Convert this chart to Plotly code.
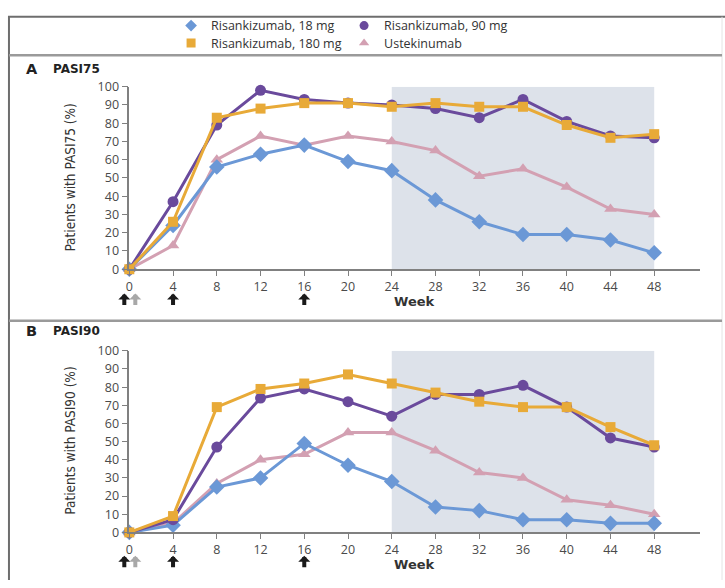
import plotly.graph_objects as go

weeks = [0, 4, 8, 12, 16, 20, 24, 28, 32, 36, 40, 44, 48]
tick_weeks = [0, 4, 8, 12, 16, 20, 24, 28, 32, 36, 40, 44, 48]
y_ticks = [0, 10, 20, 30, 40, 50, 60, 70, 80, 90, 100]

series_names = ["Risankizumab, 18 mg", "Risankizumab, 90 mg", "Risankizumab, 180 mg", "Ustekinumab"]

# Panel A: PASI75
pasi75_18 = [0, 24, 56, 63, 68, 59, 54, 38, 26, 19, 19, 16, 9]
pasi75_90 = [0, 37, 79, 98, 93, 91, 90, 88, 83, 93, 81, 73, 72]
pasi75_180 = [0, 26, 83, 88, 91, 91, 89, 91, 89, 89, 79, 72, 74]
pasi75_ust = [0, 13, 60, 73, 68, 73, 70, 65, 51, 55, 45, 33, 30]

# Panel B: PASI90
pasi90_18 = [0, 4, 25, 30, 49, 37, 28, 14, 12, 7, 7, 5, 5]
pasi90_90 = [0, 7, 47, 74, 79, 72, 64, 76, 76, 81, 69, 52, 47]
pasi90_180 = [0, 9, 69, 79, 82, 87, 82, 77, 72, 69, 69, 58, 48]
pasi90_ust = [0, 5, 27, 40, 43, 55, 55, 45, 33, 30, 18, 15, 10]

shade_weeks = [24, 48]
black_arrow_weeks = [0, 4, 16]
gray_arrow_weeks = [0]

colors = {
    "Risankizumab, 18 mg": "#6b98d6",
    "Risankizumab, 90 mg": "#6a4a9c",
    "Risankizumab, 180 mg": "#e8aa38",
    "Ustekinumab": "#d3a0b2",
}
symbols = {
    "Risankizumab, 18 mg": "diamond",
    "Risankizumab, 90 mg": "circle",
    "Risankizumab, 180 mg": "square",
    "Ustekinumab": "triangle-up",
}
sizes = {
    "Risankizumab, 18 mg": 12,
    "Risankizumab, 90 mg": 11,
    "Risankizumab, 180 mg": 10,
    "Ustekinumab": 11,
}
legend_of = {
    "Risankizumab, 18 mg": "legend",
    "Risankizumab, 90 mg": "legend",
    "Risankizumab, 180 mg": "legend2",
    "Ustekinumab": "legend2",
}

panelA = dict(zip(series_names, [pasi75_18, pasi75_90, pasi75_180, pasi75_ust]))
panelB = dict(zip(series_names, [pasi90_18, pasi90_90, pasi90_180, pasi90_ust]))

W, H = 725, 588
def px(x):
    return x / W
def py(y):
    return 1 - y / H

fig = go.Figure()

draw_order = ["Ustekinumab", "Risankizumab, 18 mg", "Risankizumab, 90 mg", "Risankizumab, 180 mg"]
legend_rank = {n: i for i, n in enumerate(series_names)}

for xa, ya, data in [("x", "y", panelA), ("x2", "y2", panelB)]:
    for name in draw_order:
        fig.add_trace(go.Scatter(
            x=weeks, y=data[name], name=name, mode="lines+markers",
            xaxis=xa, yaxis=ya, cliponaxis=False,
            line=dict(color=colors[name], width=3),
            marker=dict(symbol=symbols[name], size=sizes[name], color=colors[name]),
            showlegend=False,
        ))

# legend-only entries (marker symbol only, as in the reference key)
for name in series_names:
    fig.add_trace(go.Scatter(
        x=[None], y=[None], name=name, mode="markers",
        marker=dict(symbol=symbols[name], size=9, color=colors[name]),
        showlegend=True, legend=legend_of[name], legendrank=legend_rank[name],
        hoverinfo="skip",
    ))

axis_line = "#808080"
tick_font = dict(family="Open Sans, DejaVu Sans, sans-serif", size=12.5, color="#4a4a4a")

x_dom = [px(126), px(700)]
common_x = dict(range=[0, 52.2], tickvals=tick_weeks, showline=True, linecolor=axis_line,
                linewidth=1.5, ticks="outside", ticklen=5, tickwidth=1.2, tickcolor=axis_line,
                showgrid=False, zeroline=False, tickfont=tick_font, fixedrange=True)
common_y = dict(range=[0, 100], tickvals=y_ticks, showline=True, linecolor=axis_line,
                linewidth=1.5, ticks="outside", ticklen=6, tickwidth=1.2, tickcolor=axis_line,
                showgrid=False, zeroline=False, tickfont=tick_font, fixedrange=True)

legend_font = dict(family="Open Sans, sans-serif", size=12.5, color="#333333")
fig.update_layout(
    width=W, height=H, margin=dict(l=0, r=0, t=0, b=0),
    paper_bgcolor="white", plot_bgcolor="rgba(0,0,0,0)",
    xaxis=dict(domain=x_dom, anchor="y", **common_x),
    yaxis=dict(domain=[py(268), py(80)], anchor="x", **common_y),
    xaxis2=dict(domain=x_dom, anchor="y2", **common_x),
    yaxis2=dict(domain=[py(539), py(352)], anchor="x2", **common_y),
    legend=dict(orientation="h", x=px(168), y=py(2), xanchor="left", yanchor="top",
                entrywidth=128, entrywidthmode="pixels", traceorder="normal",
                font=legend_font, tracegroupgap=0,
                bgcolor="rgba(0,0,0,0)", itemclick=False, itemdoubleclick=False),
    legend2=dict(orientation="h", x=px(168), y=py(20), xanchor="left", yanchor="top",
                 entrywidth=128, entrywidthmode="pixels", traceorder="normal",
                 font=legend_font, tracegroupgap=0,
                 bgcolor="rgba(0,0,0,0)", itemclick=False, itemdoubleclick=False),
)

shapes = []
for xr, yr in [("x", "y"), ("x2", "y2")]:
    shapes.append(dict(type="rect", xref=xr, yref=yr, x0=shade_weeks[0], x1=shade_weeks[1],
                       y0=0, y1=100, fillcolor="#dde2ea", line=dict(width=0), layer="below"))

frame = "#6e6e6e"
shapes.append(dict(type="line", xref="paper", yref="paper", x0=px(4), x1=1, y0=py(8), y1=py(8),
                   line=dict(color=frame, width=2)))
shapes.append(dict(type="line", xref="paper", yref="paper", x0=px(5), x1=px(5), y0=py(8), y1=0,
                   line=dict(color=frame, width=2)))
shapes.append(dict(type="line", xref="paper", yref="paper", x0=px(722), x1=px(722), y0=py(8), y1=0,
                   line=dict(color="#e4e4e4", width=1)))
for ysep in [47.5, 321]:
    shapes.append(dict(type="line", xref="paper", yref="paper", x0=px(5), x1=px(722),
                       y0=py(ysep), y1=py(ysep), line=dict(color="#9a9a9a", width=2.5)))
fig.update_layout(shapes=shapes)

ann = []
for letter, label, ytop, ytitle, ymid, yweek, arrow_tip, xa in [
    ("A", "PASI75", 62, "Patients with PASI75 (%)", 174, 301, 293, "x"),
    ("B", "PASI90", 332, "Patients with PASI90 (%)", 445, 572, 563, "x2"),
]:
    ann.append(dict(text="<b>%s</b>" % letter, x=px(20), y=py(ytop), xref="paper", yref="paper",
                    xanchor="left", yanchor="middle", showarrow=False,
                    font=dict(family="DejaVu Sans, sans-serif", size=14.5, color="#222222")))
    ann.append(dict(text="<b>%s</b>" % label, x=px(47), y=py(ytop), xref="paper", yref="paper",
                    xanchor="left", yanchor="middle", showarrow=False,
                    font=dict(family="DejaVu Sans, sans-serif", size=12, color="#222222")))
    ann.append(dict(text=ytitle, x=px(66), y=py(ymid), xref="paper", yref="paper",
                    xanchor="center", yanchor="middle", showarrow=False, textangle=-90,
                    font=dict(family="DejaVu Sans Condensed, Liberation Sans Narrow, sans-serif",
                              size=13.5, color="#333333")))
    ann.append(dict(text="<b>Week</b>", x=px(413), y=py(yweek), xref="paper", yref="paper",
                    xanchor="center", yanchor="middle", showarrow=False,
                    font=dict(family="DejaVu Sans, sans-serif", size=13, color="#333333")))
    for wk in black_arrow_weeks:
        ann.append(dict(text="", x=wk, y=py(arrow_tip), xref=xa, yref="paper",
                        xshift=-5 if wk == 0 else 0, showarrow=True, ax=0, ay=13,
                        arrowhead=1, arrowsize=0.5, arrowwidth=4, arrowcolor="#1a1a1a"))
    for wk in gray_arrow_weeks:
        ann.append(dict(text="", x=wk, y=py(arrow_tip), xref=xa, yref="paper",
                        xshift=6, showarrow=True, ax=0, ay=13,
                        arrowhead=1, arrowsize=0.5, arrowwidth=4, arrowcolor="#a8a8a8"))
fig.update_layout(annotations=ann)

fig.write_html("out.html", post_script="document.body.style.margin='0';",
               config={"displayModeBar": False})
